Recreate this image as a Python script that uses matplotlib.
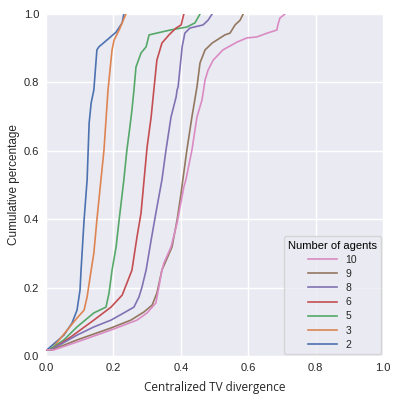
import matplotlib
matplotlib.use("Agg")
import matplotlib.pyplot as plt

# Number of agents (legend order)
agents = ["10", "9", "8", "6", "5", "3", "2"]

# Read-off ECDF curves (x = Centralized TV divergence, y = cumulative percentage)
x_2 = [0.0, 0.003, 0.053, 0.077, 0.092, 0.101, 0.104, 0.113, 0.122, 0.128, 0.134, 0.142, 0.151, 0.157, 0.181, 0.208, 0.226, 0.231]
y_2 = [0.018, 0.018, 0.061, 0.096, 0.134, 0.193, 0.251, 0.398, 0.515, 0.681, 0.740, 0.778, 0.895, 0.904, 0.924, 0.947, 0.974, 1.0]

x_3 = [0.0, 0.015, 0.068, 0.092, 0.113, 0.122, 0.134, 0.142, 0.151, 0.163, 0.172, 0.178, 0.184, 0.196, 0.202, 0.217, 0.237]
y_3 = [0.018, 0.018, 0.082, 0.111, 0.134, 0.173, 0.251, 0.301, 0.398, 0.515, 0.602, 0.690, 0.778, 0.895, 0.924, 0.953, 1.0]

x_5 = [0.0, 0.009, 0.053, 0.092, 0.142, 0.178, 0.187, 0.196, 0.208, 0.217, 0.231, 0.240, 0.249, 0.255, 0.261, 0.267, 0.282, 0.297, 0.306, 0.368, 0.418, 0.442, 0.457]
y_5 = [0.018, 0.018, 0.047, 0.085, 0.126, 0.143, 0.184, 0.251, 0.319, 0.398, 0.515, 0.602, 0.670, 0.719, 0.778, 0.845, 0.886, 0.904, 0.939, 0.953, 0.962, 0.974, 1.0]

x_6 = [0.0, 0.015, 0.074, 0.142, 0.193, 0.226, 0.240, 0.255, 0.270, 0.282, 0.291, 0.300, 0.312, 0.320, 0.329, 0.344, 0.365, 0.386, 0.401, 0.409]
y_6 = [0.018, 0.018, 0.056, 0.105, 0.143, 0.178, 0.213, 0.251, 0.348, 0.418, 0.515, 0.611, 0.699, 0.778, 0.865, 0.915, 0.939, 0.959, 0.968, 1.0]

x_8 = [0.0, 0.015, 0.092, 0.142, 0.193, 0.231, 0.261, 0.276, 0.285, 0.297, 0.312, 0.326, 0.344, 0.356, 0.371, 0.386, 0.389, 0.392, 0.404, 0.412, 0.427, 0.466, 0.481, 0.493]
y_8 = [0.018, 0.018, 0.061, 0.085, 0.105, 0.126, 0.143, 0.173, 0.202, 0.251, 0.339, 0.418, 0.515, 0.602, 0.699, 0.757, 0.778, 0.787, 0.904, 0.944, 0.959, 0.968, 0.982, 1.0]

x_9 = [0.0, 0.018, 0.092, 0.193, 0.252, 0.291, 0.315, 0.329, 0.344, 0.374, 0.389, 0.401, 0.406, 0.418, 0.433, 0.448, 0.457, 0.472, 0.493, 0.531, 0.546, 0.561, 0.576, 0.585]
y_9 = [0.018, 0.018, 0.047, 0.082, 0.105, 0.129, 0.149, 0.184, 0.251, 0.319, 0.398, 0.477, 0.515, 0.602, 0.699, 0.787, 0.857, 0.895, 0.915, 0.939, 0.944, 0.968, 0.982, 1.0]

x_10 = [0.0, 0.024, 0.092, 0.193, 0.270, 0.300, 0.326, 0.335, 0.344, 0.350, 0.371, 0.389, 0.409, 0.415, 0.433, 0.448, 0.463, 0.472, 0.481, 0.496, 0.525, 0.567, 0.596, 0.626, 0.656, 0.685, 0.688, 0.694, 0.709]
y_10 = [0.018, 0.018, 0.041, 0.076, 0.105, 0.126, 0.155, 0.202, 0.251, 0.272, 0.319, 0.389, 0.494, 0.515, 0.602, 0.699, 0.749, 0.807, 0.836, 0.865, 0.895, 0.918, 0.930, 0.933, 0.944, 0.953, 0.968, 0.988, 1.0]

xs = {"2": x_2, "3": x_3, "5": x_5, "6": x_6, "8": x_8, "9": x_9, "10": x_10}
ys = {"2": y_2, "3": y_3, "5": y_5, "6": y_6, "8": y_8, "9": y_9, "10": y_10}
colors = {"2": "#4C72B0", "3": "#DD8452", "5": "#55A868", "6": "#C44E52",
          "8": "#8172B3", "9": "#937860", "10": "#DA8BC3"}

xticks = [0.0, 0.2, 0.4, 0.6, 0.8, 1.0]
yticks = [0.0, 0.2, 0.4, 0.6, 0.8, 1.0]

plt.rcParams['font.family'] = ['Liberation Sans', 'DejaVu Sans']

fig = plt.figure(figsize=(3.99, 4.04), dpi=100)
ax = fig.add_axes([46/399, 48/404, 337/399, 342/404])
ax.set_facecolor("#EAEAF2")
for s in ax.spines.values():
    s.set_visible(False)
ax.grid(True, color="white", linewidth=1.0)
ax.set_axisbelow(True)

handles = {}
for k in ["2", "3", "5", "6", "8", "9", "10"]:
    h, = ax.plot(xs[k], ys[k], color=colors[k], linewidth=1.2, label=k)
    handles[k] = h

ax.set_xlim(0, 1)
ax.set_ylim(0, 1)
ax.set_xticks(xticks)
ax.set_yticks(yticks)
ax.set_xticklabels([f"{v:.1f}" for v in xticks])
ax.set_yticklabels([f"{v:.1f}" for v in yticks])
ax.tick_params(axis='both', length=0, labelsize=8, colors="#262626", pad=5)

ax.set_xlabel("Centralized TV divergence", fontsize=8.5, color="#262626",
              family=['Open Sans', 'DejaVu Sans'], labelpad=6)
ax.set_ylabel("Cumulative percentage", fontsize=8.5, color="#262626", labelpad=3)

leg = ax.legend([handles[k] for k in agents], agents, title="Number of agents",
                loc="lower right", fontsize=7.5, title_fontsize=8,
                facecolor="#EAEAF2", edgecolor="#D0D0D0", framealpha=0.8,
                handlelength=2.8, borderaxespad=0.2, labelspacing=0.4)
for t in leg.get_texts():
    t.set_color("#262626")

fig.savefig("out.png", dpi=100)
